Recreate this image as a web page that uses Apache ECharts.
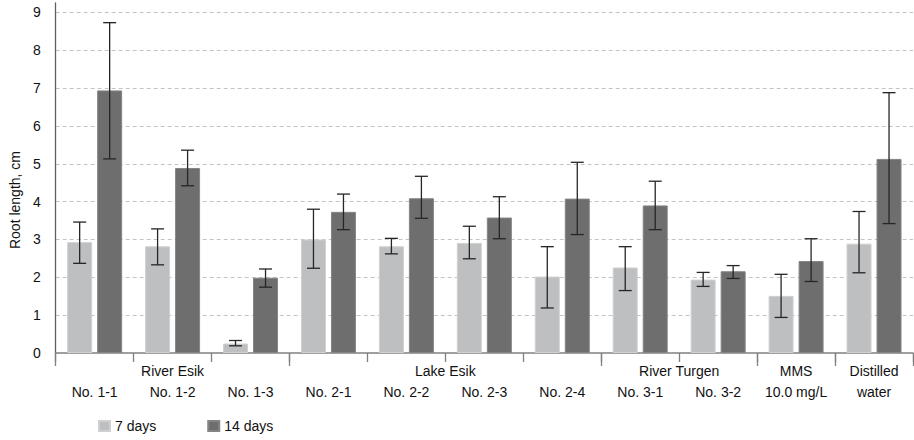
<!DOCTYPE html>
<html>
<head>
<meta charset="utf-8">
<script src="https://cdn.jsdelivr.net/npm/echarts@6/dist/echarts.min.js"></script>
<style>html,body{margin:0;padding:0;background:#fff}#c{width:914px;height:440px}</style>
</head>
<body>
<div id="c"></div>
<script>
const categories = ['No. 1-1','No. 1-2','No. 1-3','No. 2-1','No. 2-2','No. 2-3','No. 2-4','No. 3-1','No. 3-2','10.0 mg/L','water'];
const groups = ['River Esik','Lake Esik','River Turgen','MMS','Distilled'];
const groupSizes = [3,4,2,1,1];
const yTicks = [0,1,2,3,4,5,6,7,8,9];

const days7     = [2.93, 2.82, 0.25, 3.00, 2.82, 2.91, 2.02, 2.26, 1.94, 1.51, 2.89];
const days7Low  = [2.37, 2.33, 0.19, 2.24, 2.62, 2.49, 1.19, 1.65, 1.76, 0.94, 2.12];
const days7High = [3.46, 3.28, 0.33, 3.80, 3.03, 3.35, 2.81, 2.81, 2.13, 2.08, 3.74];
const days14     = [6.94, 4.89, 1.99, 3.73, 4.09, 3.58, 4.08, 3.90, 2.16, 2.43, 5.13];
const days14Low  = [5.13, 4.42, 1.74, 3.26, 3.56, 3.02, 3.13, 3.26, 1.97, 1.89, 3.42];
const days14High = [8.73, 5.36, 2.22, 4.20, 4.67, 4.13, 5.04, 4.54, 2.31, 3.02, 6.88];

const boundaries = [0];
const centers = [];
groupSizes.forEach(function (s) {
  const start = boundaries[boundaries.length - 1];
  centers.push(start + s / 2);
  boundaries.push(start + s);
});

const FONT = 'Liberation Sans, Arial, sans-serif';
const BAR_W = 25, BAR_GAP = 5;

function errSeries(name, low, high, offset) {
  return {
    type: 'custom',
    name: name,
    xAxisIndex: 0,
    yAxisIndex: 0,
    silent: true,
    z: 10,
    data: low.map(function (l, i) { return [i, l, high[i]]; }),
    encode: { x: 0, y: [1, 2] },
    renderItem: function (params, api) {
      const i = api.value(0);
      const x = api.coord([i, 0])[0] + offset;
      const yl = api.coord([i, api.value(1)])[1];
      const yh = api.coord([i, api.value(2)])[1];
      const hw = 6.5;
      const st = { stroke: '#262626', lineWidth: 1.3 };
      return {
        type: 'group',
        children: [
          { type: 'line', shape: { x1: x, y1: yl, x2: x, y2: yh }, style: st },
          { type: 'line', shape: { x1: x - hw, y1: yh, x2: x + hw, y2: yh }, style: st },
          { type: 'line', shape: { x1: x - hw, y1: yl, x2: x + hw, y2: yl }, style: st }
        ]
      };
    }
  };
}

const chart = echarts.init(document.getElementById('c'), null, { renderer: 'svg' });
chart.setOption({
  animation: false,
  textStyle: { fontFamily: FONT },
  grid: { left: 55, right: 1, top: 3, bottom: 87, containLabel: false },
  legend: {
    left: 93, top: 414,
    itemWidth: 11, itemHeight: 10, itemGap: 51,
    textStyle: { fontFamily: FONT, fontSize: 14, color: '#111' },
    data: [
      { name: '7 days', icon: 'rect' },
      { name: '14 days', icon: 'rect' }
    ]
  },
  xAxis: [
    {
      type: 'category',
      data: categories,
      position: 'bottom',
      axisLine: { lineStyle: { color: '#808080', width: 1.5 } },
      axisTick: { show: true, interval: 0, length: 9, lineStyle: { color: '#808080', width: 1.3 } },
      axisLabel: { interval: 0, margin: 32, fontSize: 14, color: '#111', fontFamily: FONT },
      splitLine: { show: false }
    },
    {
      type: 'value',
      min: 0, max: categories.length,
      position: 'bottom',
      axisLine: { show: false },
      axisTick: { show: true, customValues: boundaries, length: 13, lineStyle: { color: '#808080', width: 1.3 } },
      axisLabel: {
        customValues: centers, margin: 11, fontSize: 14, color: '#111', fontFamily: FONT,
        formatter: function (v) {
          const k = centers.indexOf(v);
          return k >= 0 ? groups[k] : '';
        }
      },
      splitLine: { show: false }
    }
  ],
  yAxis: {
    type: 'value',
    min: yTicks[0], max: 9.25, interval: 1,
    name: 'Root length, cm',
    nameLocation: 'middle',
    nameGap: 33,
    nameTextStyle: { fontSize: 14, color: '#111', fontFamily: FONT, padding: [0, 44, 0, 0] },
    axisLine: { show: true, lineStyle: { color: '#606060', width: 1.3 } },
    axisTick: { show: false },
    axisLabel: { showMaxLabel: false, margin: 15, fontSize: 14, color: '#111', fontFamily: FONT },
    splitLine: { show: true, showMaxLine: false, showMinLine: false, lineStyle: { type: [4, 3], color: '#c4c4c4', width: 1 } }
  },
  series: [
    {
      name: '7 days', type: 'bar', data: days7,
      barWidth: BAR_W, barGap: (BAR_GAP / BAR_W * 100) + '%',
      itemStyle: { color: '#bebfc1', borderColor: '#cfd0d2', borderWidth: 1 }
    },
    {
      name: '14 days', type: 'bar', data: days14,
      barWidth: BAR_W, barGap: (BAR_GAP / BAR_W * 100) + '%',
      itemStyle: { color: '#6e6e6f', borderColor: '#858585', borderWidth: 1 }
    },
    errSeries('err7', days7Low, days7High, -(BAR_W + BAR_GAP) / 2),
    errSeries('err14', days14Low, days14High, (BAR_W + BAR_GAP) / 2)
  ]
});
</script>
</body>
</html>
